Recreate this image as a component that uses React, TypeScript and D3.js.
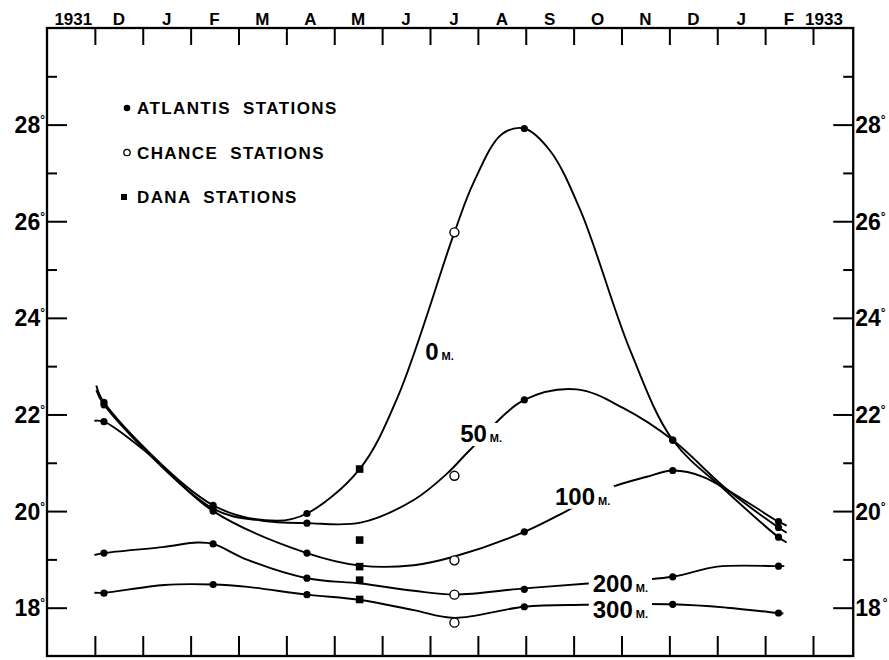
import React, { useEffect, useRef } from "react";
import * as d3 from "d3";

// months are counted from the left edge of the frame (Nov 1931 = 0..1)
const monthLabels = ["D", "J", "F", "M", "A", "M", "J", "J", "A", "S", "O", "N", "D", "J", "F"];
const monthTicks = [1, 2, 3, 4, 5, 6, 7, 8, 9, 10, 11, 12, 13, 14, 15, 16];
const yearLabels = [
  { text: "1931", t: 0.55 },
  { text: "1933", t: 16.23 },
];
const tempTicks = [18, 20, 22, 24, 26, 28];
const tempMinor = [19, 21, 23, 25, 27, 29];

// station observations
const atlantisDates = [1.19, 3.47, 5.43, 9.97, 13.07, 15.28];
const atlantis0 = [22.25, 20.12, 19.95, 27.92, 21.47, 19.46];
const atlantis50 = [22.2, 20.05, 19.75, 22.3, 21.47, 19.66];
const atlantis100 = [21.85, 20.0, 19.13, 19.57, 20.84, 19.78];
const atlantis200 = [19.13, 19.32, 18.61, 18.38, 18.64, 18.86];
const atlantis300 = [18.3, 18.48, 18.27, 18.02, 18.07, 17.89];

const chanceDate = 8.51;
const chance = [25.77, 20.73, 18.98, 18.27, 17.69]; // 0, 50, 100, 200, 300 m

const danaDate = 6.53;
const dana = [20.87, 19.4, 18.85, 18.57, 18.17];

// hand drawn curves as [month, temp]
const curve0 = [[1.03, 22.6], [1.19, 22.25], [3.47, 20.12], [4.8, 19.8], [5.43, 19.95], [6.53, 20.87], [7.32, 22.35], [8.51, 25.77], [8.91, 26.8], [9.5, 27.8], [9.97, 27.92], [10.5, 27.47], [11.14, 26.23], [12.18, 23.33], [13.07, 21.47], [14.2, 20.4], [15.28, 19.46], [15.45, 19.35]];
const curve50 = [[1.03, 22.5], [1.19, 22.2], [3.47, 20.05], [4.5, 19.8], [5.43, 19.75], [6.55, 19.76], [7.66, 20.23], [8.36, 20.78], [8.84, 21.27], [9.97, 22.3], [11.07, 22.52], [12.04, 22.13], [13.07, 21.47], [14.2, 20.45], [15.28, 19.66], [15.45, 19.55]];
const curve100 = [[0.99, 21.87], [1.19, 21.85], [2.1, 21.2], [3.47, 20.0], [5.43, 19.13], [6.55, 18.87], [7.66, 18.88], [8.51, 19.06], [9.97, 19.57], [10.83, 19.99], [11.73, 20.47], [12.53, 20.71], [13.07, 20.84], [13.7, 20.71], [15.28, 19.78], [15.45, 19.7]];
const curve200 = [[0.99, 19.09], [1.19, 19.13], [2.45, 19.26], [3.14, 19.35], [3.47, 19.32], [4.19, 18.99], [5.43, 18.61], [6.55, 18.5], [7.66, 18.35], [8.51, 18.27], [9.97, 18.4], [11.3, 18.5], [13.07, 18.64], [14.0, 18.85], [15.28, 18.86], [15.4, 18.86]];
const curve300 = [[0.99, 18.31], [1.19, 18.31], [2.45, 18.47], [3.47, 18.48], [4.19, 18.43], [5.43, 18.27], [6.55, 18.16], [7.66, 17.95], [8.51, 17.79], [9.97, 18.02], [11.23, 18.06], [13.07, 18.07], [14.2, 18.0], [15.28, 17.89], [15.38, 17.88]];

const curveLabels = [
  { depth: "0", t: 7.9, temp: 23.13 },
  { depth: "50", t: 8.63, temp: 21.43 },
  { depth: "100", t: 10.61, temp: 20.13 },
  { depth: "200", t: 11.4, temp: 18.32 },
  { depth: "300", t: 11.4, temp: 17.79 },
];

const legendItems = ["ATLANTIS STATIONS", "CHANCE STATIONS", "DANA STATIONS"];

const App = () => {
  const ref = useRef<SVGGElement>(null);

  useEffect(() => {
    const svg = d3.select(ref.current);
    svg.selectAll("*").remove();

    const x = d3.scaleLinear().domain([0, 16]).range([47, 813]);
    const y = d3.scaleLinear().domain([17, 30]).range([656, 28]);
    const xEnd = x(16.84);
    const font = "'Liberation Sans', Arial, sans-serif";

    // frame
    svg.append("rect")
      .attr("x", x(0)).attr("y", y(30))
      .attr("width", xEnd - x(0)).attr("height", y(17) - y(30))
      .attr("fill", "none").attr("stroke", "#000").attr("stroke-width", 2.3);

    // month ticks, top and bottom
    svg.append("g").attr("transform", `translate(0,${y(30)})`)
      .call(d3.axisTop(x).tickValues(monthTicks).tickSize(-17).tickFormat(() => ""));
    svg.append("g").attr("transform", `translate(0,${y(17)})`)
      .call(d3.axisBottom(x).tickValues(monthTicks).tickSize(-20).tickFormat(() => ""));

    // temperature ticks, left and right
    const left = svg.append("g").attr("transform", `translate(${x(0)},0)`);
    left.append("g").call(d3.axisLeft(y).tickValues(tempTicks).tickSize(-20).tickFormat(() => ""));
    left.append("g").call(d3.axisLeft(y).tickValues(tempMinor).tickSize(-10).tickFormat(() => ""));
    const right = svg.append("g").attr("transform", `translate(${xEnd},0)`);
    right.append("g").call(d3.axisRight(y).tickValues(tempTicks).tickSize(-20).tickFormat(() => ""));
    right.append("g").call(d3.axisRight(y).tickValues(tempMinor).tickSize(-10).tickFormat(() => ""));

    svg.selectAll(".domain").remove();
    svg.selectAll(".tick line").attr("stroke", "#000").attr("stroke-width", 2);

    // month labels
    svg.append("g").selectAll("text")
      .data(monthLabels).enter().append("text")
      .attr("x", (d, i) => x(i + 1.5))
      .attr("y", 25)
      .attr("text-anchor", "middle")
      .attr("font-family", font).attr("font-weight", "bold").attr("font-size", 17)
      .text(d => d);
    svg.append("g").selectAll("text")
      .data(yearLabels).enter().append("text")
      .attr("x", d => x(d.t))
      .attr("y", 25)
      .attr("text-anchor", "middle")
      .attr("font-family", font).attr("font-weight", "bold").attr("font-size", 17)
      .text(d => d.text);

    // degree labels
    const leftLab = svg.append("g").selectAll("text")
      .data(tempTicks).enter().append("text")
      .attr("x", x(0) - 2)
      .attr("y", d => y(d) + 8.5)
      .attr("text-anchor", "end")
      .attr("font-family", font).attr("font-weight", "bold").attr("font-size", 23)
      .text(d => d);
    leftLab.append("tspan").attr("dy", -9).attr("font-size", 12).text("°");

    const rightLab = svg.append("g").selectAll("text")
      .data(tempTicks).enter().append("text")
      .attr("x", xEnd + 2)
      .attr("y", d => y(d) + 8.5)
      .attr("font-family", font).attr("font-weight", "bold").attr("font-size", 23)
      .text(d => d);
    rightLab.append("tspan").attr("dy", -9).attr("dx", d => (d === 18 ? 2 : 0)).attr("font-size", 12).text("°");

    // curves
    const line = d3.line<number[]>()
      .x(d => x(d[0]))
      .y(d => y(d[1]))
      .curve(d3.curveCatmullRom.alpha(0.5));

    svg.append("g").selectAll("path")
      .data([curve0, curve50, curve100, curve200, curve300]).enter().append("path")
      .attr("d", d => line(d))
      .attr("fill", "none").attr("stroke", "#000").attr("stroke-width", 1.9);

    // curve labels with a white gap behind
    const labG = svg.append("g");
    curveLabels.forEach(c => {
      const t = labG.append("text")
        .attr("x", x(c.t)).attr("y", y(c.temp))
        .attr("font-family", font).attr("font-weight", "bold").attr("font-size", 24)
        .text(c.depth);
      t.append("tspan").attr("dx", 3).attr("font-size", 11).text("M.");
      const b = (t.node() as SVGTextElement).getBBox();
      labG.insert("rect", () => t.node())
        .attr("x", b.x - 4).attr("y", b.y + 3)
        .attr("width", b.width + 8).attr("height", b.height - 4)
        .attr("fill", "#fff");
    });

    // station markers
    const allAtlantis = [atlantis0, atlantis50, atlantis100, atlantis200, atlantis300];
    svg.append("g").selectAll("g")
      .data(allAtlantis).enter().append("g")
      .selectAll("circle")
      .data(d => d).enter().append("circle")
      .attr("cx", (d, i) => x(atlantisDates[i]))
      .attr("cy", d => y(d))
      .attr("r", 3.6)
      .attr("fill", "#000");

    svg.append("g").selectAll("circle")
      .data(chance).enter().append("circle")
      .attr("cx", x(chanceDate))
      .attr("cy", d => y(d))
      .attr("r", 4.5)
      .attr("fill", "#fff").attr("stroke", "#000").attr("stroke-width", 1.4);

    svg.append("g").selectAll("rect")
      .data(dana).enter().append("rect")
      .attr("x", x(danaDate) - 3.8)
      .attr("y", d => y(d) - 3.8)
      .attr("width", 7.6).attr("height", 7.6)
      .attr("fill", "#000");

    // legend
    const leg = svg.append("g");
    leg.selectAll("text")
      .data(legendItems).enter().append("text")
      .attr("x", 137)
      .attr("y", (d, i) => 114 + i * 44.5)
      .attr("font-family", font).attr("font-weight", "bold").attr("font-size", 17)
      .attr("letter-spacing", 1.4)
      .attr("word-spacing", 6)
      .text(d => d);
    leg.append("circle").attr("cx", 127).attr("cy", 108).attr("r", 3.3).attr("fill", "#000");
    leg.append("circle").attr("cx", 127).attr("cy", 152.5).attr("r", 3.2)
      .attr("fill", "#fff").attr("stroke", "#000").attr("stroke-width", 1.3);
    leg.append("rect").attr("x", 121).attr("y", 194).attr("width", 6).attr("height", 6).attr("fill", "#000");
  }, []);

  return (
    <svg width={889} height={660} style={{ position: "absolute", left: 0, top: 0, background: "#fff" }}>
      <g ref={ref} />
    </svg>
  );
};

export default App;
